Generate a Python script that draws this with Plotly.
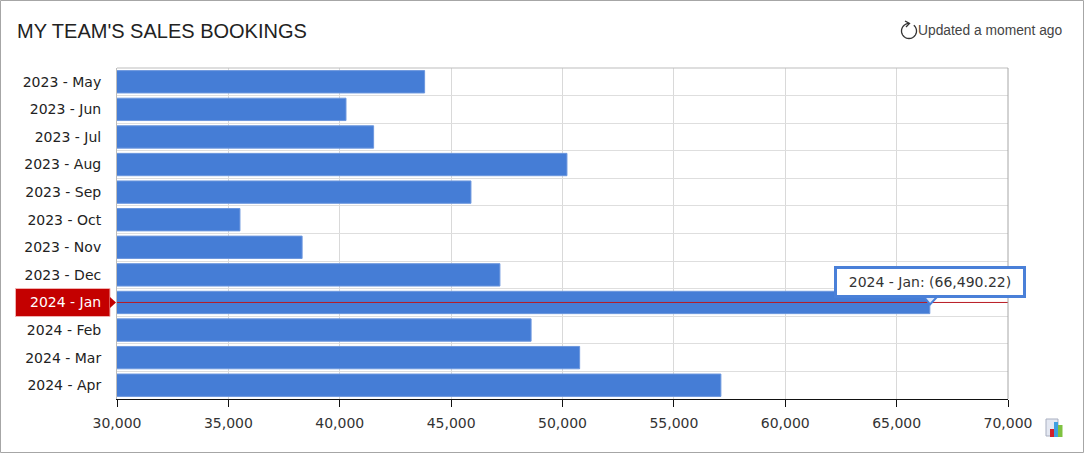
import math
import plotly.graph_objects as go

categories = ["2023 - May", "2023 - Jun", "2023 - Jul", "2023 - Aug", "2023 - Sep", "2023 - Oct",
              "2023 - Nov", "2023 - Dec", "2024 - Jan", "2024 - Feb", "2024 - Mar", "2024 - Apr"]
bookings = [43810, 40280, 41520, 50200, 45890, 35520, 38310, 47190, 66490.22, 48590, 50770, 57110]
highlight_category = "2024 - Jan"
highlight_value = 66490.22
x_ticks = [30000, 35000, 40000, 45000, 50000, 55000, 60000, 65000, 70000]

W, H = 1084, 453
L, R, T, B = 117, 1008, 68, 399
BLUE = "#457dd6"
MONO = "DejaVu Sans, Verdana, sans-serif"
SANS = "Liberation Sans, Arial, sans-serif"
RED = "#c40000"

def px(v):
    return (v - L) / (R - L)

def py(v):
    return (B - v) / (B - T)

def box(x0, y0, x1, y1, fill=None, line=None, width=1):
    return dict(type="rect", xref="paper", yref="paper", x0=px(x0), x1=px(x1), y0=py(y1), y1=py(y0),
                fillcolor=fill if fill else "rgba(0,0,0,0)",
                line=dict(color=line if line else "rgba(0,0,0,0)", width=width if line else 0))

def poly(points, close=False, fill=None, line=None, width=1):
    d = "M " + " L ".join(f"{px(a):.5f} {py(b):.5f}" for a, b in points) + (" Z" if close else "")
    return dict(type="path", xref="paper", yref="paper", path=d,
                fillcolor=fill if fill else "rgba(0,0,0,0)",
                line=dict(color=line if line else "rgba(0,0,0,0)", width=width if line else 0))

arc = [(909 + 7.5 * math.cos(math.radians(a)), 31 - 7.5 * math.sin(math.radians(a))) for a in range(90, 420, 10)]

fig = go.Figure()
fig.add_trace(go.Bar(
    y=categories, x=bookings, orientation="h", width=0.81,
    marker=dict(color=BLUE, line=dict(color="#6c97de", width=1)),
    hovertemplate="%{y}: (%{x:,.2f})<extra></extra>",
))
shapes = [
    box(0.5, 0.5, 1083.5, 452.5, line="#a6a6a6", width=1),
    # refresh icon
    poly(arc, line="#333333", width=1.3),
    poly([(905, 21), (909.5, 23.5), (906, 27)], line="#333333", width=1.3),
    # chart icon
    box(1046, 419, 1058, 436, fill="#e4e8f2", line="#a9afc0", width=1),
    box(1050, 429, 1054, 437, fill="#d3202a"),
    box(1054, 422, 1058, 437, fill="#3f9fe0"),
    box(1058, 425, 1062.5, 437, fill="#7fc241"),
    # highlighted category label
    box(15.5, 288.5, 110, 316.5, fill=RED, line="#f0b0b0", width=1),
    poly([(110, 297), (116, 302.5), (110, 308)], close=True, fill=RED),
    dict(type="line", xref="x", yref="y", x0=30000, x1=70000, y0=highlight_category, y1=highlight_category,
         line=dict(color="#b81a22", width=1), layer="above"),
    # tooltip pointer
    poly([(924, 297), (930, 304.5), (937, 297)], close=True, fill="#dfe9fa", line="#4a80d8", width=2),
]
annotations = [
    dict(xref="paper", yref="paper", x=px(1065), y=py(30), xanchor="right", yanchor="middle", showarrow=False,
         text="Updated a moment ago", font=dict(family=SANS, size=13.8, color="#444444")),
    dict(xref="paper", yref="y", x=px(103), y=highlight_category, xanchor="right", yanchor="middle", showarrow=False,
         text=highlight_category, font=dict(family=MONO, size=14, color="#ffffff")),
    dict(xref="x", yref="y", x=highlight_value, y=highlight_category, xanchor="center", yanchor="bottom",
         yshift=4, showarrow=False, text=f"{highlight_category}: ({highlight_value:,.2f})",
         font=dict(family=MONO, size=14, color="#333333"), bgcolor="#ffffff", bordercolor="#4a80d8",
         borderwidth=3, width=184, height=24),
]

fig.update_layout(
    width=W, height=H, autosize=False, paper_bgcolor="#ffffff", plot_bgcolor="#ffffff",
    margin=dict(l=L, r=W - R, t=T, b=H - B), showlegend=False,
    title=dict(text="MY TEAM'S SALES BOOKINGS", x=17 / W, y=1 - 31 / H, xanchor="left", yanchor="middle",
               font=dict(family=SANS, size=20, color="#222222")),
    shapes=shapes, annotations=annotations,
    xaxis=dict(range=[30000, 70000], tickvals=x_ticks, tickformat=",d", ticks="outside", ticklen=7, tickcolor="#111111",
               showline=True, linecolor="#111111", linewidth=1, gridcolor="#d9d9d9", gridwidth=1, zeroline=False,
               ticklabelstandoff=4, tickfont=dict(family=MONO, size=14, color="#333333")),
    yaxis=dict(type="category", categoryorder="array", categoryarray=categories, range=[11.5, -0.5],
               tickson="boundaries", ticks="", showgrid=True, gridcolor="#dedede", gridwidth=1,
               tickmode="array", tickvals=categories,
               ticktext=["" if c == highlight_category else c for c in categories],
               showline=True, linecolor="#bdbdbd", linewidth=1, ticklabelstandoff=12,
               tickfont=dict(family=MONO, size=14, color="#222222")),
)
fig.add_shape(type="line", xref="paper", yref="paper", x0=0, x1=1, y0=1, y1=1, line=dict(color="#bdbdbd", width=1))
fig.add_shape(type="line", xref="paper", yref="paper", x0=1, x1=1, y0=0, y1=1, line=dict(color="#a6a6a6", width=1))

fig.write_html("out.html", config={"displayModeBar": False},
               post_script="document.body.style.margin='0';document.body.style.overflow='hidden';")
